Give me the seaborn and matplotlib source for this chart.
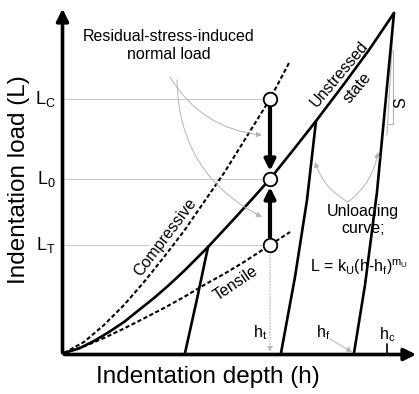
import numpy as np
import matplotlib
matplotlib.use("Agg")
import matplotlib.pyplot as plt
import seaborn as sns
import pandas as pd

# schematic curves (depth h, load L, arbitrary units)
load_h = [0, 15, 30, 45, 60, 75, 90, 105, 120, 144, 170, 190, 206, 230, 252, 280, 305, 330]
load_L = [0, 4.5, 12, 21, 31, 43, 55, 68, 82, 106, 134, 156, 174, 204, 232, 269, 303, 340]

comp_h = [0, 20, 40, 60, 80, 100, 120, 140, 160, 180, 206, 225]
comp_L = [0, 11, 28, 48, 71, 96, 122, 151, 180, 212, 254, 290]

tens_h = [0, 20, 40, 60, 80, 100, 120, 140, 160, 180, 206, 226]
tens_L = [0, 6.6, 15, 24.5, 34.6, 45, 56, 68, 79, 91, 108, 121]

unload1_h = [144, 133, 121]
unload1_L = [106, 54, 0]
unload2_h = [252, 243, 231, 217]
unload2_L = [232, 153, 76, 0]
unload3_h = [330, 313, 301, 290]
unload3_L = [340, 161, 68, 0]

# load levels at the reference depth
level_names = ["C", "0", "T"]
level_L = [254, 174, 108]
h_ref = 206

# marked depths on the axis
h_t = 206
h_f = 290
h_c = 323

sns.set_style("white")
plt.rcParams['font.family'] = ['Liberation Sans', 'DejaVu Sans']
plt.rcParams['mathtext.fontset'] = 'custom'
plt.rcParams['mathtext.rm'] = 'Liberation Sans'
plt.rcParams['text.color'] = 'black'

fig = plt.figure(figsize=(4.19, 3.94), dpi=100)
ax = fig.add_axes([0, 0, 1, 1])
ax.set_xlim(-64, 355)
ax.set_ylim(-41, 353)
ax.axis('off')

gray = '#b4b4b4'

# guide lines for the load levels
ax.hlines(level_L, 0, h_ref - 7, color='#cccccc', lw=0.8, zorder=1)

# curves
sns.lineplot(x=load_h, y=load_L, ax=ax, color='black', lw=1.9, sort=False, estimator=None, zorder=3)
sns.lineplot(x=comp_h, y=comp_L, ax=ax, color='black', lw=1.5, sort=False, estimator=None,
             linestyle=(0, (2, 1.2)), zorder=3)
sns.lineplot(x=tens_h, y=tens_L, ax=ax, color='black', lw=1.5, sort=False, estimator=None,
             linestyle=(0, (2, 1.2)), zorder=3)
for hh, LL in [(unload1_h, unload1_L), (unload2_h, unload2_L), (unload3_h, unload3_L)]:
    sns.lineplot(x=hh, y=LL, ax=ax, color='black', lw=1.9, sort=False, estimator=None, zorder=3)

# axes with arrow heads
ax.annotate('', xy=(-1.5, 347), xytext=(-1.5, -2.5),
            arrowprops=dict(arrowstyle='-|>', lw=2.6, color='black', mutation_scale=18))
ax.annotate('', xy=(355, -1.5), xytext=(-2.5, -1.5),
            arrowprops=dict(arrowstyle='-|>', lw=2.6, color='black', mutation_scale=18))

# thick arrows between the states
ax.annotate('', xy=(h_ref, level_L[1] + 8), xytext=(h_ref, level_L[0] - 8),
            arrowprops=dict(arrowstyle='-|>', lw=3, color='black', mutation_scale=16, shrinkA=0, shrinkB=0))
ax.annotate('', xy=(h_ref, level_L[1] - 8), xytext=(h_ref, level_L[2] + 8),
            arrowprops=dict(arrowstyle='-|>', lw=3, color='black', mutation_scale=16, shrinkA=0, shrinkB=0))

sns.scatterplot(x=[h_ref] * 3, y=level_L, ax=ax, s=95, color='white', edgecolor='black',
                linewidth=1.3, zorder=6)

# h_t drop line
ax.annotate('', xy=(h_t, 1), xytext=(h_t, level_L[2] - 7),
            arrowprops=dict(arrowstyle='-|>', lw=0.8, color=gray, linestyle=':', mutation_scale=8,
                            shrinkA=0, shrinkB=0))

# stiffness triangle
ax.plot([329, 329, 324], [303, 229, 229], color=gray, lw=0.8, zorder=2)
ax.plot([330, 323], [340, 218], color=gray, lw=0.8, zorder=2)

# thin pointer arrows
thin = dict(arrowstyle='-|>', lw=0.7, color=gray, mutation_scale=8, shrinkA=0, shrinkB=0)
ax.annotate('', xy=(198, 218), xytext=(106, 276), arrowprops=dict(thin, connectionstyle='arc3,rad=0.25'))
ax.annotate('', xy=(198, 136), xytext=(113, 273), arrowprops=dict(thin, connectionstyle='arc3,rad=0.3'))
ax.annotate('', xy=(251, 191), xytext=(284, 151), arrowprops=dict(thin, connectionstyle='arc3,rad=-0.2'))
ax.annotate('', xy=(314, 201), xytext=(284, 151), arrowprops=dict(thin, connectionstyle='arc3,rad=0.2'))
ax.annotate('', xy=(288, 1), xytext=(266, 14), arrowprops=thin)

# h_c tick
ax.plot([h_c, h_c], [0, 9], color='black', lw=1.2)

# texts
fs = 11.5
ax.text(105, 308, 'Residual-stress-induced\nnormal load', ha='center', va='center', fontsize=fs,
        linespacing=1.25)
ax.text(275, 279, 'Unstressed', ha='center', va='center', fontsize=fs, rotation=50)
ax.text(293, 265, 'state', ha='center', va='center', fontsize=fs, rotation=50)
ax.text(337, 250, 'S', ha='center', va='center', fontsize=fs, rotation=90)
ax.text(101, 116, 'Compressive', ha='center', va='center', fontsize=fs, rotation=53,
        bbox=dict(facecolor='white', edgecolor='none', pad=0))
ax.text(172, 70, 'Tensile', ha='center', va='center', fontsize=fs, rotation=34)
ax.text(299, 133, 'Unloading\ncurve;', ha='center', va='center', fontsize=fs, linespacing=1.15)
ax.text(295, 86, r'L = k$_{\mathregular{U}}$(h-h$_{\mathregular{f}}$)$^{\mathregular{m}_{\mathregular{U}}}$',
        ha='center', va='center', fontsize=fs)
ax.text(196, 20, r'h$_{\mathregular{t}}$', ha='center', va='center', fontsize=fs)
ax.text(259, 20, r'h$_{\mathregular{f}}$', ha='center', va='center', fontsize=fs)
ax.text(323, 18, r'h$_{\mathregular{c}}$', ha='center', va='center', fontsize=fs)

for name, LL in zip(level_names, level_L):
    ax.text(-8, LL, r'L$_{\mathregular{%s}}$' % name, ha='right', va='center', fontsize=13)

ax.text(144, -24, 'Indentation depth (h)', ha='center', va='center', fontsize=17.5)
ax.text(-45, 173, 'Indentation load (L)', ha='center', va='center', fontsize=17.5, rotation=90)

fig.savefig('out.png', dpi=100)
